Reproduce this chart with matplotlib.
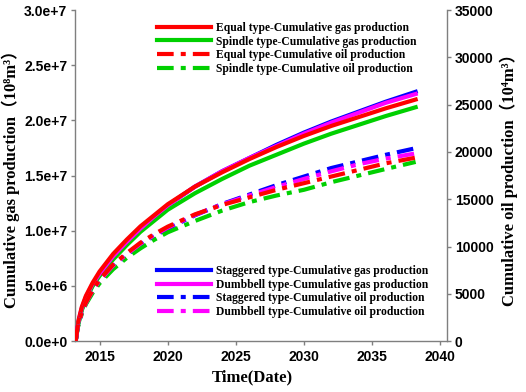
import matplotlib.pyplot as plt
from matplotlib.ticker import FuncFormatter, MultipleLocator

years = [2013.25, 2013.4, 2013.7, 2014, 2014.5, 2015, 2016, 2017, 2018, 2019,
         2020, 2022, 2024, 2026, 2028, 2030, 2032, 2034, 2036, 2038.2]

# cumulative gas production (1e6 m3 units)
gas_equal = [0, 1.6, 3.1, 4.1, 5.3, 6.3, 7.9, 9.2, 10.4, 11.4,
             12.4, 14.0, 15.3, 16.5, 17.6, 18.6, 19.5, 20.3, 21.1, 21.9]
gas_spindle = [0, 1.3, 2.8, 3.8, 5.0, 5.9, 7.4, 8.7, 9.9, 10.9,
               11.9, 13.4, 14.7, 15.9, 16.9, 17.9, 18.8, 19.6, 20.4, 21.2]
gas_staggered = [0, 1.4, 2.9, 3.9, 5.1, 6.0, 7.6, 8.9, 10.1, 11.3,
                 12.3, 14.0, 15.4, 16.6, 17.8, 18.9, 19.9, 20.8, 21.7, 22.6]
gas_dumbbell = [0, 1.5, 3.0, 4.0, 5.2, 6.1, 7.7, 9.0, 10.2, 11.3,
                12.3, 14.0, 15.4, 16.6, 17.7, 18.8, 19.8, 20.7, 21.6, 22.4]

# cumulative oil production (right axis)
oil_equal = [0, 1600, 3100, 4100, 5400, 6500, 8100, 9300, 10400, 11300,
             12100, 13400, 14400, 15200, 16000, 16700, 17400, 18100, 18800, 19400]
oil_spindle = [0, 1400, 2900, 3900, 5100, 6100, 7600, 8800, 9800, 10700,
               11500, 12700, 13800, 14700, 15400, 16000, 16800, 17500, 18200, 18950]
oil_staggered = [0, 1500, 3000, 4000, 5300, 6300, 7900, 9100, 10200, 11100,
                 11900, 13300, 14500, 15500, 16500, 17400, 18300, 19000, 19700, 20400]
oil_dumbbell = [0, 1550, 3050, 4050, 5350, 6400, 8000, 9200, 10300, 11200,
                12000, 13350, 14450, 15400, 16300, 17150, 17950, 18700, 19300, 19850]

serif = ['Liberation Serif', 'DejaVu Serif', 'Noto Sans CJK SC']
sans = 'Liberation Sans'
grey = '#7f7f7f'
green = '#00d000'
dashdot = (0, (4.0, 1.7, 1.2, 1.7))
lw = 3.0

fig = plt.figure(figsize=(5.26, 3.92), dpi=100)
ax = fig.add_axes([0.1426, 0.130, 0.7072, 0.844])
ax2 = ax.twinx()

g_st, = ax.plot(years, [v * 1e6 for v in gas_staggered], color='blue', lw=lw)
g_sp, = ax.plot(years, [v * 1e6 for v in gas_spindle], color=green, lw=lw)
g_db, = ax.plot(years, [v * 1e6 for v in gas_dumbbell], color='magenta', lw=lw)
g_eq, = ax.plot(years, [v * 1e6 for v in gas_equal], color='red', lw=lw)

o_st, = ax2.plot(years, oil_staggered, color='blue', lw=lw, ls=dashdot)
o_sp, = ax2.plot(years, oil_spindle, color=green, lw=lw, ls=dashdot)
o_db, = ax2.plot(years, oil_dumbbell, color='magenta', lw=lw, ls=dashdot)
o_eq, = ax2.plot(years, oil_equal, color='red', lw=lw, ls=dashdot)

ax.set_xlim(2013.2, 2040.5)
ax.set_ylim(0, 3.0e7)
ax2.set_ylim(0, 35000)
ax.xaxis.set_major_locator(MultipleLocator(5))
ax.yaxis.set_major_locator(MultipleLocator(5e6))
ax2.yaxis.set_major_locator(MultipleLocator(5000))


def sci(v, pos):
    if v == 0:
        return '0.0e+0'
    e = len(str(int(v))) - 1
    return f'{v / 10 ** e:.1f}e+{e}'


ax.yaxis.set_major_formatter(FuncFormatter(sci))

for a in (ax, ax2):
    a.spines['top'].set_visible(False)
    for s in a.spines.values():
        s.set_color(grey)
        s.set_linewidth(1.0)
    a.tick_params(direction='out', length=3, width=1, color=grey,
                  labelsize=10, pad=2.5)
ax2.spines['left'].set_visible(False)
ax2.spines['bottom'].set_visible(False)
ax.spines['right'].set_visible(False)
ax.tick_params(axis='x', pad=3.5)

for lab in ax.get_xticklabels() + ax.get_yticklabels() + ax2.get_yticklabels():
    lab.set_fontfamily(sans)
    lab.set_fontweight('bold')

ax.set_xlabel('Time(Date)', family=serif, weight='bold', fontsize=12)
ax.xaxis.set_label_coords(0.476, -0.085)
ax.set_ylabel('Cumulative gas production（10⁸m³）', family=serif,
              weight='bold', fontsize=12)
ax.yaxis.set_label_coords(-0.148, 0.5)
ax2.set_ylabel('Cumulative oil production（10⁴m³）', family=serif,
               weight='bold', fontsize=12, rotation=90)
ax2.yaxis.set_label_coords(1.142, 0.5)

leg_kw = dict(frameon=False, handlelength=4.6, handletextpad=0.5,
              labelspacing=0.15, borderpad=0, borderaxespad=0,
              prop={'family': serif, 'weight': 'bold', 'size': 8.4},
              loc='upper left')
leg1 = ax2.legend([g_eq, g_sp, o_eq, o_sp],
                  ['Equal type-Cumulative gas production',
                   'Spindle type-Cumulative gas production',
                   'Equal type-Cumulative oil production',
                   'Spindle type-Cumulative oil production'],
                  bbox_to_anchor=(0.22, 0.965), **leg_kw)
ax2.add_artist(leg1)
ax2.legend([g_st, g_db, o_st, o_db],
           ['Staggered type-Cumulative gas production',
            'Dumbbell type-Cumulative gas production',
            'Staggered type-Cumulative oil production',
            'Dumbbell type-Cumulative oil production'],
           bbox_to_anchor=(0.22, 0.23), **leg_kw)

fig.savefig('out.png', dpi=100)
